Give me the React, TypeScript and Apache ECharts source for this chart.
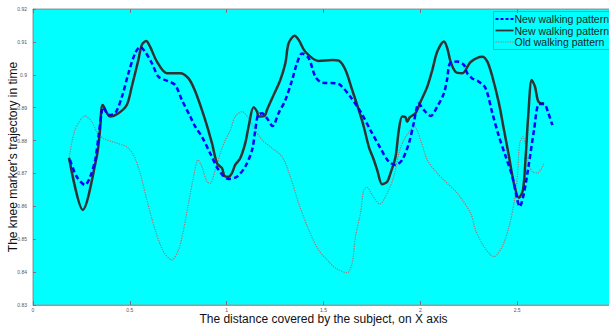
import { useEffect, useRef } from 'react';
import * as echarts from 'echarts';

const seriesLabels = ['New walking pattern', 'New walking pattern', 'Old walking pattern'];

const xTicks = [0, 0.5, 1, 1.5, 2, 2.5, 3];
const yTicks = [0.83, 0.84, 0.85, 0.86, 0.87, 0.88, 0.89, 0.9, 0.91, 0.92];

const newDashed: [number, number][] = [
  [0.191, 0.8741], [0.226, 0.869], [0.269, 0.8665], [0.295, 0.869], [0.321, 0.8741], [0.338, 0.8812],
  [0.355, 0.8888], [0.363, 0.8901], [0.389, 0.8878], [0.424, 0.8883], [0.459, 0.8933], [0.493, 0.9005],
  [0.527, 0.9065], [0.553, 0.9085], [0.579, 0.907], [0.614, 0.9035], [0.648, 0.8994], [0.691, 0.8982],
  [0.734, 0.8969], [0.769, 0.8923], [0.812, 0.8873], [0.838, 0.8842], [0.872, 0.8812], [0.915, 0.8761],
  [0.958, 0.8711], [1.01, 0.8683], [1.053, 0.869], [1.096, 0.8721], [1.131, 0.8771], [1.148, 0.8832],
  [1.162, 0.8878], [1.183, 0.8883], [1.208, 0.8868], [1.237, 0.8844], [1.268, 0.8883], [1.303, 0.8923],
  [1.338, 0.8984], [1.363, 0.9035], [1.389, 0.9065], [1.424, 0.905], [1.458, 0.8994], [1.493, 0.8976],
  [1.562, 0.8974], [1.587, 0.8969], [1.639, 0.8933], [1.691, 0.8888], [1.742, 0.8832], [1.794, 0.8777],
  [1.837, 0.8736], [1.872, 0.8726], [1.906, 0.8741], [1.941, 0.8792], [1.966, 0.8853], [1.992, 0.8913],
  [2.018, 0.8893], [2.053, 0.8875], [2.087, 0.8903], [2.122, 0.8944], [2.139, 0.8989], [2.153, 0.9035],
  [2.191, 0.904], [2.225, 0.903], [2.242, 0.9005], [2.268, 0.8989], [2.302, 0.8979], [2.337, 0.8959],
  [2.372, 0.8883], [2.406, 0.8812], [2.441, 0.8751], [2.475, 0.869], [2.501, 0.8619], [2.513, 0.8599],
  [2.535, 0.864], [2.561, 0.8731], [2.587, 0.8832], [2.613, 0.8911], [2.639, 0.8911], [2.661, 0.8883],
  [2.682, 0.8847],
];

const newSolid: [number, number][] = [
  [0.186, 0.8748], [0.257, 0.8589], [0.329, 0.8751], [0.346, 0.8832], [0.36, 0.8908], [0.398, 0.8873],
  [0.441, 0.8883], [0.484, 0.8908], [0.51, 0.8964], [0.544, 0.9045], [0.562, 0.9091], [0.584, 0.9103],
  [0.605, 0.9085], [0.64, 0.904], [0.691, 0.9005], [0.76, 0.9005], [0.803, 0.8989], [0.838, 0.8949],
  [0.889, 0.8863], [0.924, 0.8792], [0.95, 0.8731], [0.976, 0.8716], [0.989, 0.8692], [1.01, 0.869],
  [1.027, 0.8701], [1.044, 0.8726], [1.07, 0.8746], [1.096, 0.8792], [1.113, 0.8842], [1.139, 0.8901],
  [1.157, 0.8888], [1.165, 0.8873], [1.196, 0.8875], [1.208, 0.8893], [1.243, 0.8939], [1.277, 0.8984],
  [1.303, 0.9035], [1.32, 0.9096], [1.351, 0.9119], [1.372, 0.9106], [1.406, 0.907], [1.475, 0.9042],
  [1.544, 0.9045], [1.579, 0.9043], [1.613, 0.9015], [1.648, 0.8954], [1.682, 0.8893], [1.708, 0.8842],
  [1.734, 0.8781], [1.76, 0.8741], [1.777, 0.8711], [1.803, 0.8667], [1.829, 0.8675], [1.846, 0.8701],
  [1.872, 0.8751], [1.889, 0.8832], [1.906, 0.8873], [1.923, 0.8871], [1.932, 0.8857], [1.946, 0.8871],
  [1.975, 0.8883], [2.001, 0.8918], [2.036, 0.8964], [2.062, 0.9015], [2.087, 0.907], [2.122, 0.9101],
  [2.139, 0.9081], [2.156, 0.904], [2.182, 0.9009], [2.217, 0.9005], [2.26, 0.9039], [2.32, 0.9055],
  [2.346, 0.904], [2.372, 0.8994], [2.406, 0.8913], [2.432, 0.8832], [2.458, 0.8751], [2.483, 0.867],
  [2.509, 0.8626], [2.53, 0.865], [2.544, 0.8751], [2.558, 0.8883], [2.575, 0.8984], [2.592, 0.8964],
  [2.61, 0.8918], [2.639, 0.8913],
];

const oldDotted: [number, number][] = [
  [0.188, 0.8751], [0.217, 0.8832], [0.269, 0.8875], [0.304, 0.8857], [0.329, 0.8827], [0.363, 0.8807],
  [0.433, 0.8792], [0.484, 0.8781], [0.519, 0.8756], [0.553, 0.8701], [0.588, 0.8619], [0.631, 0.8528],
  [0.674, 0.8462], [0.717, 0.8437], [0.751, 0.8467], [0.777, 0.8528], [0.803, 0.8609], [0.829, 0.869],
  [0.852, 0.8741], [0.872, 0.8721], [0.898, 0.8675], [0.915, 0.867], [0.941, 0.8711], [0.967, 0.8761],
  [0.993, 0.8802], [1.019, 0.8832], [1.044, 0.8873], [1.079, 0.8888], [1.113, 0.8868], [1.148, 0.8832],
  [1.183, 0.8802], [1.234, 0.8777], [1.286, 0.8751], [1.329, 0.869], [1.372, 0.8609], [1.424, 0.8528],
  [1.475, 0.8467], [1.527, 0.8432], [1.562, 0.8412], [1.622, 0.8398], [1.648, 0.8427], [1.665, 0.8508],
  [1.691, 0.8579], [1.708, 0.865], [1.725, 0.8658], [1.751, 0.8635], [1.791, 0.8607], [1.829, 0.864],
  [1.863, 0.869], [1.889, 0.8761], [1.915, 0.8802], [1.949, 0.8832], [1.97, 0.8842], [2.001, 0.8802],
  [2.036, 0.8741], [2.087, 0.8701], [2.139, 0.867], [2.191, 0.864], [2.26, 0.8579], [2.285, 0.8528],
  [2.328, 0.8478], [2.38, 0.8447], [2.423, 0.8478], [2.458, 0.8538], [2.483, 0.8609], [2.501, 0.869],
  [2.513, 0.8792], [2.53, 0.8812], [2.544, 0.8781], [2.558, 0.8731], [2.579, 0.8705], [2.604, 0.8701],
  [2.622, 0.8711], [2.639, 0.8731],
];

const FONT = '"Liberation Sans", Arial, sans-serif';
const fmt = (v: number) => String(parseFloat(v.toFixed(2)));

const DASHED = { color: '#0000ff', width: 2.5, type: [5, 3] as number[] };
const SOLID = { color: '#333333', width: 2.5, type: 'solid' };
const DOTTED = { color: '#a07474', width: 1.2, type: [1.2, 1.2] as number[] };

export default function App() {
  const ref = useRef<HTMLDivElement>(null);
  useEffect(() => {
    const chart = echarts.init(ref.current!, null, { renderer: 'svg' });
    const tickLabel = { fontSize: 5, color: '#555', fontFamily: FONT };
    const legendStyles = [DASHED, SOLID, DOTTED];
    const legendChildren: any[] = [
      {
        type: 'rect', shape: { x: 0, y: 0, width: 124, height: 38 },
        style: { fill: '#00ffff', stroke: '#888', lineWidth: 1 },
      },
    ];
    seriesLabels.forEach((label, i) => {
      const y = 7.5 + i * 11.5;
      const st = legendStyles[i];
      legendChildren.push({
        type: 'line', shape: { x1: 2, y1: y, x2: 20, y2: y },
        style: {
          stroke: st.color,
          lineWidth: i === 2 ? 1.2 : 1.8,
          lineDash: i === 0 ? [3, 2] : i === 2 ? [1.2, 1.2] : null,
        },
      });
      legendChildren.push({
        type: 'text', x: 21, y,
        style: { text: label, fontSize: 10.5, fontFamily: FONT, fill: '#222', verticalAlign: 'middle', align: 'left' },
      });
    });
    chart.setOption({
      animation: false,
      backgroundColor: '#ffffff',
      textStyle: { fontFamily: FONT },
      grid: {
        left: 33, top: 9, width: 581, height: 296,
        outerBoundsMode: 'none', containLabel: false,
        show: true, backgroundColor: '#00ffff', borderColor: '#999', borderWidth: 1,
      },
      graphic: [{ type: 'group', left: 493, top: 11, z: 100, children: legendChildren }],
      xAxis: [
        {
          type: 'value', min: xTicks[0], max: xTicks[xTicks.length - 1], interval: 0.5,
          position: 'bottom',
          name: 'The distance covered by the subject, on X axis', nameLocation: 'middle', nameGap: 8,
          nameMoveOverlap: false,
          nameTextStyle: { fontSize: 12, lineHeight: 12, color: '#111', fontFamily: FONT },
          axisLine: { show: true, lineStyle: { color: '#999' } },
          axisTick: { show: true, inside: true, length: 4, lineStyle: { color: '#777' } },
          axisLabel: { ...tickLabel, margin: 2, lineHeight: 5, formatter: fmt, showMaxLabel: false },
          splitLine: { show: false },
        },
        {
          type: 'value', min: xTicks[0], max: xTicks[xTicks.length - 1], interval: 0.5,
          position: 'top',
          axisLine: { show: true, lineStyle: { color: '#999' } },
          axisTick: { show: true, inside: true, length: 4, lineStyle: { color: '#777' } },
          axisLabel: { show: false },
          splitLine: { show: false },
        },
      ],
      yAxis: {
        type: 'value', min: yTicks[0], max: yTicks[yTicks.length - 1], interval: 0.01,
        name: "The knee marker's trajectory in time", nameLocation: 'middle', nameGap: 14,
        nameMoveOverlap: false,
        nameTextStyle: { fontSize: 12, color: '#111', fontFamily: FONT },
        axisLine: { show: true, lineStyle: { color: '#999' } },
        axisTick: { show: true, inside: true, length: 3, lineStyle: { color: '#777' } },
        axisLabel: { ...tickLabel, margin: 6, formatter: fmt },
        splitLine: { show: false },
      },
      series: [
        {
          name: 'Old walking pattern', type: 'line', data: oldDotted, symbol: 'none', smooth: 0.3,
          lineStyle: DOTTED, itemStyle: { color: DOTTED.color },
        },
        {
          name: 'New walking pattern (solid)', type: 'line', data: newSolid, symbol: 'none', smooth: 0.3,
          lineStyle: SOLID, itemStyle: { color: SOLID.color },
        },
        {
          name: 'New walking pattern (dashed)', type: 'line', data: newDashed, symbol: 'none', smooth: 0.3,
          lineStyle: DASHED, itemStyle: { color: DASHED.color },
        },
      ],
    });
    return () => chart.dispose();
  }, []);
  return (
    <div
      ref={ref}
      style={{ position: 'fixed', left: 0, top: 0, width: 609, height: 326, background: '#fff' }}
    />
  );
}
